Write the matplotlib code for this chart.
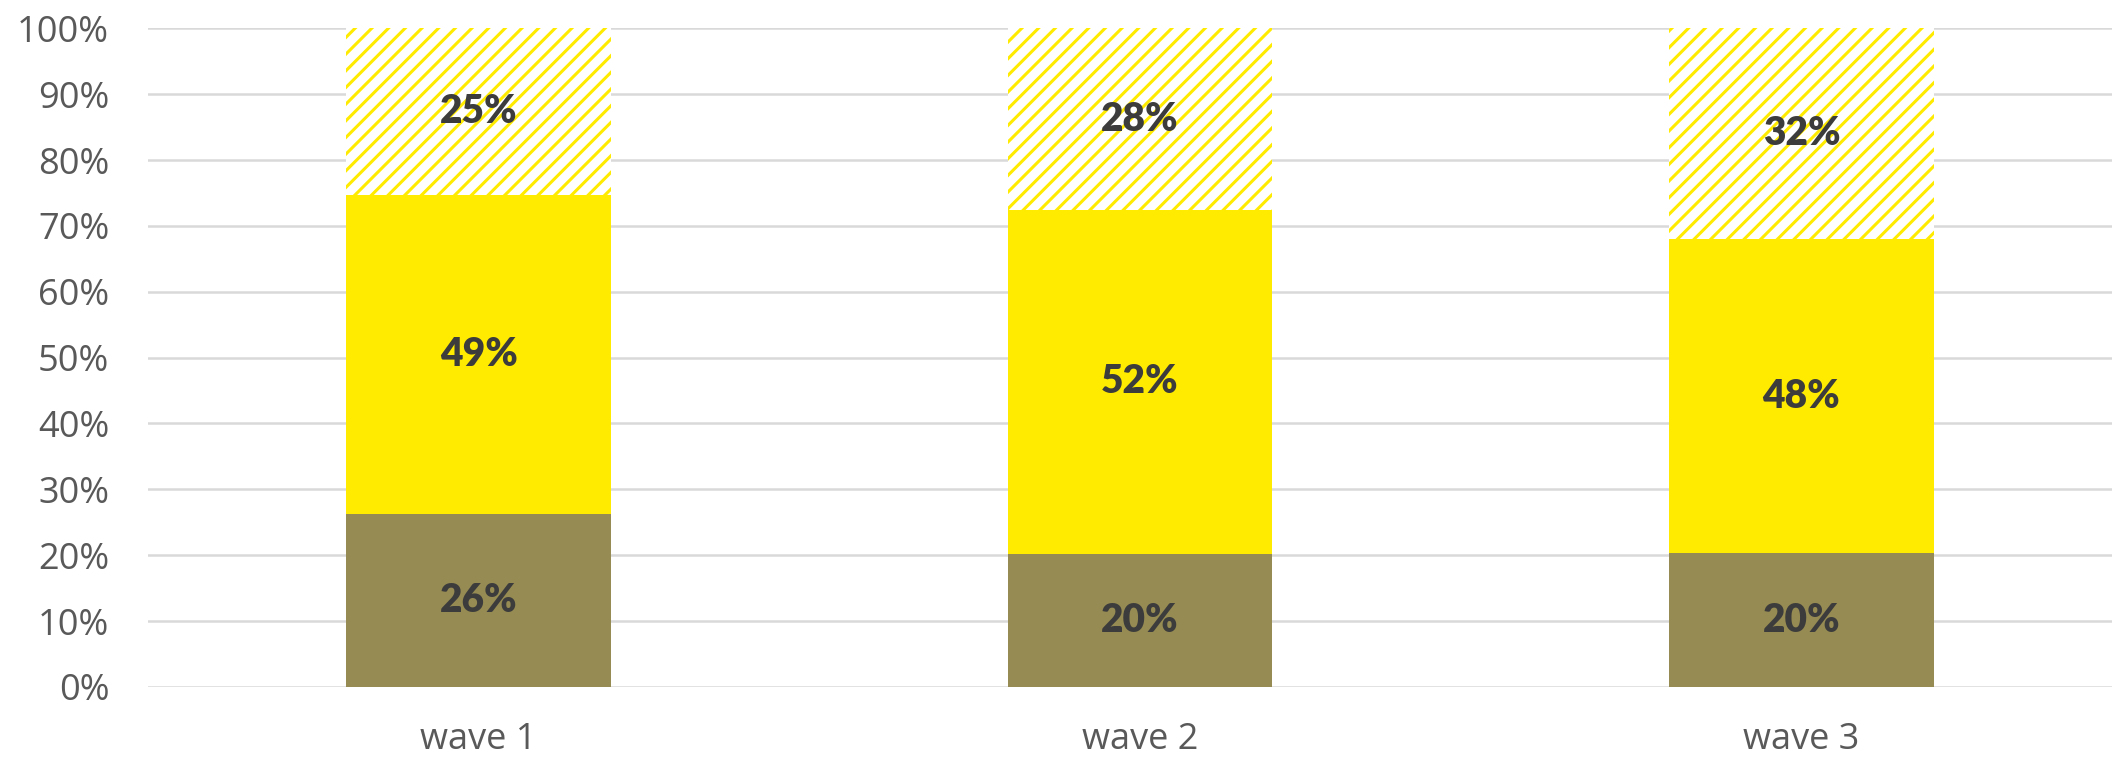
import matplotlib
matplotlib.use('Agg')
import matplotlib.pyplot as plt
import numpy as np

# Data (percent shares per wave)
waves = ['wave 1', 'wave 2', 'wave 3']
bottom_vals = [26.2, 20.2, 20.3]
middle_vals = [48.5, 52.2, 47.7]
top_vals = [25.3, 27.6, 32.0]
bottom_labels = ['26%', '20%', '20%']
middle_labels = ['49%', '52%', '48%']
top_labels = ['25%', '28%', '32%']

OLIVE = '#968B52'
YELLOW = '#FFEB00'
TEXT = '#3C3C3C'
TICK = '#595959'

plt.rcParams['hatch.linewidth'] = 2.2
plt.rcParams['hatch.color'] = YELLOW

fig = plt.figure(figsize=(21.12, 7.58), dpi=100)
ax = fig.add_axes([0.0701, 0.0937, 0.9394, 0.869])

x = np.arange(len(waves))
width = 0.4
b1 = np.array(bottom_vals)
b2 = b1 + np.array(middle_vals)

ax.bar(x, bottom_vals, width, color=OLIVE, linewidth=0, zorder=2)
ax.bar(x, middle_vals, width, bottom=b1, color=YELLOW, linewidth=0, zorder=2)
ax.bar(x, top_vals, width, bottom=b2, facecolor='white', edgecolor=YELLOW,
       hatch='//', linewidth=0, zorder=2)

label_font = dict(family='Lato', fontweight='heavy', fontsize=28, color=TEXT,
                  ha='center', va='center', zorder=3)
for i in range(len(waves)):
    ax.text(x[i], bottom_vals[i] / 2, bottom_labels[i], **label_font)
    ax.text(x[i], b1[i] + middle_vals[i] / 2, middle_labels[i], **label_font)
    ax.text(x[i], b2[i] + top_vals[i] / 2, top_labels[i], **label_font)

ax.set_xlim(-0.5, 2.5)
ax.set_ylim(0, 100)
ax.set_yticks(np.arange(0, 101, 10))
ax.set_yticklabels([f'{v}%' for v in range(0, 101, 10)])
ax.set_xticks(x)
ax.set_xticklabels(waves)
ax.grid(axis='y', color='#D9D9D9', linewidth=1.8, zorder=0)
ax.set_axisbelow(True)
for s in ax.spines.values():
    s.set_visible(False)
ax.tick_params(axis='both', length=0, labelsize=26, labelcolor=TICK)
ax.tick_params(axis='y', pad=28)
ax.tick_params(axis='x', pad=25)
for lbl in ax.get_xticklabels() + ax.get_yticklabels():
    lbl.set_family('Open Sans')

fig.savefig('out.png', dpi=100)
